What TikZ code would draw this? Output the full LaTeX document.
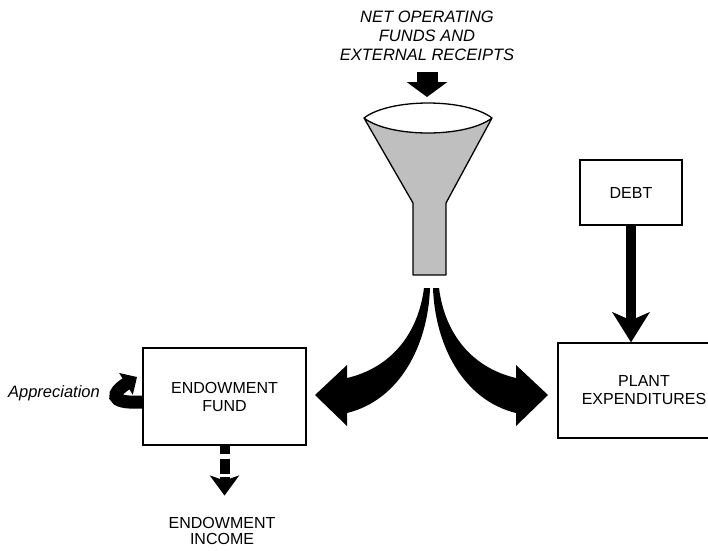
\documentclass[tikz,border=0pt]{standalone}
\usepackage{fontspec}
\setmainfont{Liberation Sans}
\usetikzlibrary{arrows.meta, positioning}

\begin{document}
\begin{tikzpicture}[
  x=1pt, y=-1pt,
  box/.style={draw, line width=1.3pt, align=center, inner sep=0pt,
              font=\fontsize{16}{18}\selectfont},
  caption/.style={align=center, font=\fontsize{16}{16.5}\selectfont},
  slanted/.style={align=center, font=\itshape\fontsize{16.5}{19}\selectfont},
  heavy/.style={line width=10pt, -{Stealth[length=30pt, width=37pt, inset=8pt]}},
  blockarrow/.style={line width=21pt, -{Triangle[length=15pt, width=40pt]}},
  funnel/.style={fill=black!25, line width=1.3pt, line join=round}
]
\clip (0,0) rectangle (708,550);

\def\mid{431.5} % axis of the two curved arrows

% --- Incoming funds ---
\node[slanted] (source) at (427,36) {NET OPERATING\\FUNDS AND\\EXTERNAL RECEIPTS};
\coordinate (mouth) at (427,97);
\draw[blockarrow, shorten <=8pt] (source.south) -- (mouth);

% --- Funnel ---
\filldraw[funnel] (364,118) .. controls (390,138) and (466,138) .. (492,118)
  -- (446,203) -- (446,275) -- (413,275) -- (413,203) -- cycle;
\draw[line width=1.3pt] (364,118) .. controls (390,98) and (466,98) .. (492,118);

% --- Split into two curved arrows ---
\foreach \s in {1,-1}{
  \fill[shift={(\mid,0)}, xscale=\s]
    (-7.5,288) .. controls (-13.5,335) and (-41.5,368) .. (-84.5,378)
    -- (-84.5,365) -- (-116.5,395) -- (-84.5,426) -- (-84.5,413)
    .. controls (-31.5,400) and (-3.5,345) .. (-1.5,288) -- cycle;
}

% --- Boxes ---
\node[box, minimum width=163pt, minimum height=97pt] (fund) at (224.5,396.5)
  {ENDOWMENT\\FUND};
\node[box, minimum width=102pt, minimum height=65pt] (debt) at (631,192.5) {DEBT};
\node[box, minimum width=172pt, minimum height=95pt] (plant) at (644,390.5)
  {PLANT\\EXPENDITURES};

\draw[heavy] (debt.south) -- (debt.south |- plant.north);

% --- Appreciation loop ---
\node[slanted] (apprec) at (54,393) {Appreciation};
\coordinate (apprecTip) at (137,377);
\draw[line width=13pt, -{Triangle[length=13pt, width=25pt]}]
  ([yshift=-5.5pt]fund.west) .. controls +(-36,2) and +(-24,15) .. (apprecTip);

% --- Endowment income ---
\node[caption] (income) at (222,531) {ENDOWMENT\\INCOME};
\draw[line width=10pt, dash pattern=on 8pt off 5pt on 15pt off 3pt,
      -{Stealth[length=20pt, width=29pt, inset=5pt]}, shorten >=18pt]
  (fund.south) -- (fund.south |- income.north);

\end{tikzpicture}
\end{document}
